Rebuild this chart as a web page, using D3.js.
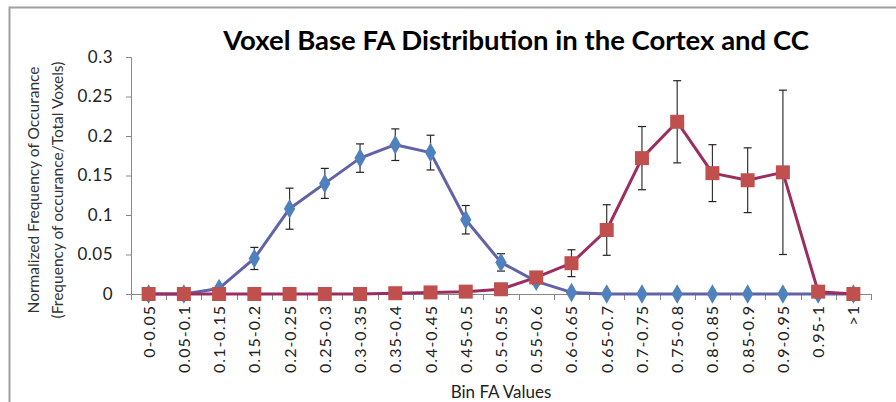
<!DOCTYPE html>
<html><head><meta charset="utf-8">
<script src="https://cdn.jsdelivr.net/npm/d3@7"></script>
<style>
body{margin:0;background:#fff;}
text{font-family:Lato,"Open Sans",sans-serif;}
</style></head>
<body><svg id="c" width="896" height="402"></svg>
<script>
const categories = ["0-0.05","0.05-0.1","0.1-0.15","0.15-0.2","0.2-0.25","0.25-0.3","0.3-0.35","0.35-0.4","0.4-0.45","0.45-0.5","0.5-0.55","0.55-0.6","0.6-0.65","0.65-0.7","0.7-0.75","0.75-0.8","0.8-0.85","0.85-0.9","0.9-0.95","0.95-1",">1"];
const cortex = [0,0,0.007,0.045,0.108,0.140,0.172,0.189,0.179,0.094,0.040,0.016,0.002,0,0,0,0,0,0,0,0];
const cortexErr = [0,0,0.003,0.014,0.026,0.019,0.018,0.020,0.022,0.018,0.011,0.004,0,0,0,0,0,0,0,0,0];
const cc = [0,0,0,0,0,0,0,0.001,0.002,0.003,0.006,0.021,0.039,0.081,0.172,0.218,0.153,0.144,0.154,0.003,0];
const ccErr = [0,0,0,0,0,0,0,0,0,0,0,0,0.017,0.032,0.040,0.052,0.036,0.041,0.104,0,0];
const yTicks = [0,0.05,0.1,0.15,0.2,0.25,0.3];

const svg = d3.select("#c");
// outer border
svg.append("rect").attr("x",9.5).attr("y",7.5).attr("width",900).attr("height",410)
  .attr("fill","none").attr("stroke","#a0a0a0").attr("stroke-width",2);

const x = d3.scaleBand().domain(categories).range([131,871]);
const y = d3.scaleLinear().domain([0,0.3]).range([294,57]);

// y axis
const ya = svg.append("g").attr("transform","translate(131,0)")
  .call(d3.axisLeft(y).tickValues(yTicks).tickFormat(d=>d===0?"0":String(d)).tickSize(5).tickPadding(13));
ya.select(".domain").attr("stroke","#888").attr("d","M-5,57.5H0.5V294.5");
ya.selectAll(".tick line").attr("stroke","#888");
ya.selectAll(".tick text").attr("font-size",17).attr("fill","#222").attr("font-family","Lato,sans-serif").attr("letter-spacing",0.5);

// x axis
const xa = svg.append("g").attr("transform","translate(0,294)");
xa.append("line").attr("x1",131).attr("x2",871).attr("y1",0.5).attr("y2",0.5).attr("stroke","#888");
const edges = categories.map(c=>x(c)).concat([871]);
xa.selectAll("line.tk").data(edges).join("line").attr("class","tk")
  .attr("x1",d=>Math.round(d)+0.5).attr("x2",d=>Math.round(d)+0.5).attr("y1",0).attr("y2",6).attr("stroke","#888");
xa.selectAll("text").data(categories).join("text")
  .attr("transform",d=>`translate(${x(d)+x.bandwidth()/2+6},11) rotate(-90)`)
  .attr("text-anchor","end").attr("font-size",16).attr("letter-spacing",1).attr("fill","#222").text(d=>d);

// series
function drawSeries(vals, errs, lineColor, markerColor, sym, size){
  const g = svg.append("g");
  const cx = i => x(categories[i]) + x.bandwidth()/2;
  errs.forEach((e,i)=>{
    if(e<=0) return;
    const top=y(vals[i]+e), bot=y(vals[i]-e), xc=cx(i);
    g.append("line").attr("x1",xc).attr("x2",xc).attr("y1",top).attr("y2",bot).attr("stroke","#333").attr("stroke-width",1.2);
    [top,bot].forEach(yy=>g.append("line").attr("x1",xc-4).attr("x2",xc+4).attr("y1",yy).attr("y2",yy).attr("stroke","#222").attr("stroke-width",1.2));
  });
  const line = d3.line().x((d,i)=>cx(i)).y(d=>y(d));
  g.append("path").datum(vals).attr("d",line).attr("fill","none").attr("stroke",lineColor).attr("stroke-width",3).attr("stroke-linejoin","round");
  g.selectAll("path.m").data(vals).join("path").attr("class","m")
    .attr("transform",(d,i)=>`translate(${cx(i)},${y(d)})`)
    .attr("d",d3.symbol().type(sym).size(size)).attr("fill",markerColor);
}
drawSeries(cortex, cortexErr, "#6262a6", "#4f81bd", d3.symbolDiamond, 110);
drawSeries(cc, ccErr, "#9b2d5f", "#c0504d", d3.symbolSquare, 196);

// titles
svg.append("text").attr("x",516).attr("y",50).attr("text-anchor","middle")
  .attr("font-size",27.5).attr("font-weight","bold").attr("fill","#000")
  .text("Voxel Base FA Distribution in the Cortex and CC");
svg.append("text").attr("x",501).attr("y",398).attr("text-anchor","middle")
  .attr("font-size",17).attr("fill","#222").text("Bin FA Values");
svg.append("text").attr("transform","translate(39,190) rotate(-90)").attr("text-anchor","middle")
  .attr("font-size",15.5).attr("fill","#333").text("Normalized Frequency of Occurance");
svg.append("text").attr("transform","translate(63,190) rotate(-90)").attr("text-anchor","middle")
  .attr("font-size",15.5).attr("fill","#333").text("(Frequency of occurance/Total Voxels)");
</script></body></html>
